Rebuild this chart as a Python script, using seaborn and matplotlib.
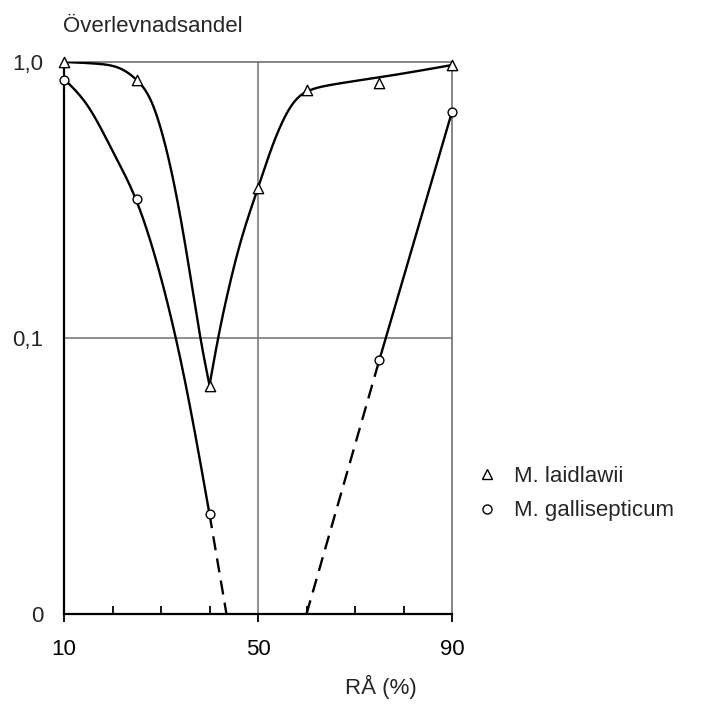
import matplotlib
matplotlib.use("Agg")
import matplotlib.pyplot as plt
from matplotlib.lines import Line2D
import seaborn as sns
import numpy as np

# ---- data ----
rh_laid = [10, 25, 40, 50, 60, 75, 90]
surv_laid = [1.0, 0.86, 0.067, 0.35, 0.79, 0.84, 0.975]

rh_gall = [10, 25, 40, 75, 90]
surv_gall = [0.86, 0.32, 0.023, 0.083, 0.66]

# hand-drawn fitted curves (guide points)
laid_left_x = [10, 17, 22, 25, 28, 30, 33, 36, 38.5, 40]
laid_left_y = [1.0, 0.985, 0.94, 0.86, 0.72, 0.57, 0.34, 0.17, 0.092, 0.0675]
laid_right_x = [40, 42, 44, 46, 48, 50, 52, 54, 56, 58, 61, 65, 75, 90]
laid_right_y = [0.0675, 0.1045, 0.152, 0.21, 0.275, 0.35, 0.445, 0.552, 0.655, 0.735,
                0.794, 0.826, 0.88, 0.975]

gall_left_x = [10, 15, 20, 25, 30, 35, 40]
gall_left_y = [0.868, 0.689, 0.477, 0.312, 0.165, 0.069, 0.023]

gall_right_x = [75, 90]
gall_right_y = [0.083, 0.66]

# dashed extrapolations down to "0"
gall_dash_left_x = [40, 43.5]
gall_dash_left_y = [0.023, 0.01]
gall_dash_right_x = [60, 75]
gall_dash_right_y = [0.01, 0.083]

x_ticks = [10, 50, 90]
x_tick_labels = ["10", "50", "90"]
x_minor = [20, 30, 40, 60, 70, 80]
y_ticks = [0.01, 0.1, 1.0]
y_tick_labels = ["0", "0,1", "1,0"]

labels = ["M. laidlawii", "M. gallisepticum"]


def smooth(xs, ys, n=300):
    """Natural cubic spline rendering of a hand-drawn curve through guide points (x, log y)."""
    x = np.asarray(xs, float)
    y = np.log10(np.asarray(ys, float))
    m = len(x)
    h = np.diff(x)
    A = np.zeros((m, m))
    r = np.zeros(m)
    A[0, 0] = A[-1, -1] = 1.0
    for i in range(1, m - 1):
        A[i, i - 1] = h[i - 1]
        A[i, i] = 2 * (h[i - 1] + h[i])
        A[i, i + 1] = h[i]
        r[i] = 3 * ((y[i + 1] - y[i]) / h[i] - (y[i] - y[i - 1]) / h[i - 1])
    c = np.linalg.solve(A, r)
    b = (y[1:] - y[:-1]) / h - h * (2 * c[:-1] + c[1:]) / 3
    d = (c[1:] - c[:-1]) / (3 * h)
    xx = np.linspace(x[0], x[-1], n)
    idx = np.clip(np.searchsorted(x, xx, side="right") - 1, 0, m - 2)
    dx = xx - x[idx]
    yy = y[idx] + b[idx] * dx + c[idx] * dx ** 2 + d[idx] * dx ** 3
    return xx, 10 ** yy


# ---- style ----
sns.set_style("white")
plt.rcParams["font.family"] = ["Liberation Sans", "DejaVu Sans"]

fig = plt.figure(figsize=(7.08, 7.07), dpi=100)
ax = fig.add_axes([64 / 708, 1 - 614 / 707, (452 - 64) / 708, (614 - 62) / 707])

ax.set_yscale("log")
ax.set_xlim(10, 90)
ax.set_ylim(0.01, 1.0)

grid_c = "#707070"
ax.axhline(0.1, color=grid_c, lw=1.1, zorder=1)
ax.axvline(50, color=grid_c, lw=1.1, zorder=1)

lw = 1.7
for cx, cy in [(laid_left_x, laid_left_y), (laid_right_x, laid_right_y),
               (gall_left_x, gall_left_y)]:
    sx, sy = smooth(cx, cy)
    sns.lineplot(x=sx, y=sy, ax=ax, sort=False, estimator=None,
                 color="black", lw=lw, zorder=3)
sns.lineplot(x=gall_right_x, y=gall_right_y, ax=ax, sort=False, estimator=None,
             color="black", lw=lw, zorder=3)
ax.plot(gall_dash_left_x, gall_dash_left_y, color="black", lw=lw,
        linestyle=(0, (6, 3.5)), zorder=3)
ax.plot(gall_dash_right_x, gall_dash_right_y, color="black", lw=lw,
        linestyle=(0, (6, 3.5)), zorder=3)

sns.scatterplot(x=rh_laid, y=surv_laid, ax=ax, marker="^", s=55, facecolor="white",
                edgecolor="black", linewidth=1.0, zorder=5, clip_on=False)
sns.scatterplot(x=rh_gall, y=surv_gall, ax=ax, marker="o", s=40, facecolor="white",
                edgecolor="black", linewidth=1.0, zorder=5, clip_on=False)

# spines
for side in ["left", "bottom"]:
    ax.spines[side].set_color("black")
    ax.spines[side].set_linewidth(1.6)
for side in ["top", "right"]:
    ax.spines[side].set_color(grid_c)
    ax.spines[side].set_linewidth(1.2)
    ax.spines[side].set_visible(True)

ax.set_xticks(x_ticks)
ax.set_xticklabels(x_tick_labels)
ax.set_xticks(x_minor, minor=True)
ax.tick_params(axis="x", which="both", bottom=True, top=False)
ax.tick_params(axis="x", which="major", direction="out", length=6, width=1.3,
               pad=12, labelsize=16, colors="black")
ax.tick_params(axis="x", which="minor", direction="in", length=6, width=1.3, color="black")
ax.set_yticks(y_ticks)
ax.set_yticklabels(y_tick_labels)
ax.yaxis.set_minor_locator(matplotlib.ticker.NullLocator())
ax.tick_params(axis="y", which="major", left=True, length=0, pad=15, labelsize=16)

ax.set_xlabel("RÅ (%)", fontsize=16)
ax.xaxis.set_label_coords(0.817, -0.110)
ax.set_ylabel("")

fig.text(63 / 708, 1 - 26 / 707, "Överlevnadsandel", fontsize=16, ha="left", va="center")

handles = [
    Line2D([], [], marker="^", ls="none", mfc="white", mec="black", ms=7, mew=1.0),
    Line2D([], [], marker="o", ls="none", mfc="white", mec="black", ms=6.5, mew=1.0),
]
fig.legend(handles, labels, loc="upper left", bbox_to_anchor=(476 / 708, 1 - 466 / 707),
           bbox_transform=fig.transFigure, frameon=False, fontsize=16,
           handlelength=1.0, handletextpad=0.7, labelspacing=0.6, borderpad=0,
           borderaxespad=0)

fig.savefig("out.png", dpi=100)
